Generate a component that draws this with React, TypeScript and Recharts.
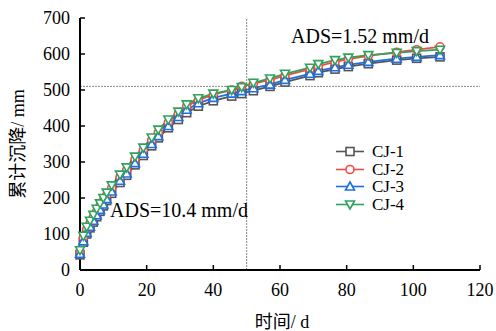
import { LineChart, Line, XAxis, YAxis, ReferenceLine, Legend } from "recharts";

const days = [0, 1, 2, 3, 4, 5, 6, 7, 8, 9.5, 12, 14, 16.5, 19, 21.5, 23.5, 26.5, 29.5, 32, 35.5, 40, 45.5, 48.5, 52, 57, 61.5, 69, 71.5, 76.5, 80.5, 86.5, 95, 101, 108];

const cj1 = [42, 77, 100, 117, 133, 148, 163, 178, 193, 213, 243, 263, 292, 318, 345, 367, 395, 418, 437, 455, 470, 483, 490, 498, 510, 522, 540, 548, 558, 565, 573, 583, 588, 592];
const cj2 = [50, 90, 113, 130, 147, 163, 178, 193, 208, 228, 258, 278, 307, 333, 360, 382, 410, 435, 455, 472, 487, 500, 510, 518, 528, 540, 558, 566, 578, 586, 595, 605, 612, 620];
const cj3 = [45, 80, 103, 120, 137, 152, 167, 182, 197, 218, 248, 268, 297, 323, 350, 372, 400, 425, 445, 463, 478, 490, 497, 505, 515, 528, 545, 553, 563, 570, 578, 587, 592, 597];
const cj4 = [55, 95, 120, 137, 153, 170, 185, 200, 215, 235, 265, 285, 315, 340, 368, 390, 418, 440, 460, 477, 490, 500, 508, 520, 532, 545, 562, 572, 583, 590, 597, 603, 608, 612];

const xTicks = [0, 20, 40, 60, 80, 100, 120];
const yTicks = [0, 100, 200, 300, 400, 500, 600, 700];

const series = [
  { key: "cj1", name: "CJ-1", color: "#555555", shape: "square" },
  { key: "cj2", name: "CJ-2", color: "#f24a45", shape: "circle" },
  { key: "cj3", name: "CJ-3", color: "#1f6fe0", shape: "up" },
  { key: "cj4", name: "CJ-4", color: "#2ea35c", shape: "down" },
];

const data = days.map((d, i) => ({ day: d, cj1: cj1[i], cj2: cj2[i], cj3: cj3[i], cj4: cj4[i] }));

const FONT = "'Liberation Serif', 'Noto Sans CJK SC', serif";

function Marker({ cx, cy, shape, color }: { cx: number; cy: number; shape: string; color: string }) {
  const s = 4;
  const common = { fill: "#fff", stroke: color, strokeWidth: 1.6 };
  if (shape === "square") return <rect x={cx - s} y={cy - s} width={2 * s} height={2 * s} {...common} />;
  if (shape === "circle") return <circle cx={cx} cy={cy} r={s} {...common} />;
  if (shape === "up")
    return <polygon points={`${cx},${cy - s - 0.5} ${cx - s - 0.5},${cy + s - 0.5} ${cx + s + 0.5},${cy + s - 0.5}`} {...common} />;
  return <polygon points={`${cx},${cy + s + 0.5} ${cx - s - 0.5},${cy - s + 0.5} ${cx + s + 0.5},${cy - s + 0.5}`} {...common} />;
}

function renderLegend() {
  return (
    <div style={{ fontFamily: FONT, fontSize: 17, lineHeight: "17.5px" }}>
      {series.map((s) => (
        <div key={s.key} style={{ display: "flex", alignItems: "center", height: 17.5 }}>
          <svg width={40} height={17}>
            <line x1={4} x2={32} y1={8.5} y2={8.5} stroke={s.color} strokeWidth={1.6} />
            <Marker cx={18} cy={8.5} shape={s.shape} color={s.color} />
          </svg>
          <span style={{ color: "#000" }}>{s.name}</span>
        </div>
      ))}
    </div>
  );
}

export default function App() {
  return (
    <div style={{ position: "absolute", left: 0, top: 0, width: 496, height: 331, background: "#fff" }}>
      <LineChart width={496} height={331} data={data} margin={{ top: 18, right: 16, left: 0, bottom: 0 }}>
        <XAxis
          dataKey="day"
          type="number"
          domain={[0, 120]}
          ticks={xTicks}
          height={61}
          axisLine={{ stroke: "#000", strokeWidth: 2 }}
          tickLine={{ stroke: "#000", strokeWidth: 1.5 }}
          tickSize={-5}
          tickMargin={18}
          tick={{ fill: "#000", fontSize: 18, fontFamily: FONT }}
          label={{
            content: () => (
              <text x={282} y={328} textAnchor="middle" fontSize={18} fontFamily={FONT} fill="#000">
                时间/ d
              </text>
            ),
          }}
        />
        <YAxis
          type="number"
          domain={[0, 700]}
          ticks={yTicks}
          width={80}
          axisLine={{ stroke: "#000", strokeWidth: 2 }}
          tickLine={{ stroke: "#000", strokeWidth: 1.5 }}
          tickSize={-5}
          tickMargin={15}
          tick={{ fill: "#000", fontSize: 18, fontFamily: FONT }}
          label={{
            content: () => (
              <text
                x={24}
                y={144}
                textAnchor="middle"
                fontSize={18}
                fontFamily={FONT}
                fill="#000"
                transform="rotate(-90 24 144)"
              >
                累计沉降/ mm
              </text>
            ),
          }}
        />
        <ReferenceLine y={510} stroke="#888" strokeDasharray="2 1" strokeWidth={1} />
        <ReferenceLine x={50} stroke="#888" strokeDasharray="2 1" strokeWidth={1} />
        <ReferenceLine
          y={650}
          stroke="none"
          label={{ value: "ADS=1.52 mm/d", position: "center", dx: 80, fontSize: 20, fontFamily: FONT, fill: "#000" }}
        />
        <ReferenceLine
          y={167}
          stroke="none"
          label={{ value: "ADS=10.4 mm/d", position: "insideLeft", dx: 25, fontSize: 20, fontFamily: FONT, fill: "#000" }}
        />
        {series.map((s) => (
          <Line
            key={s.key}
            dataKey={s.key}
            name={s.name}
            stroke={s.color}
            strokeWidth={1.8}
            isAnimationActive={false}
            dot={(p: any) => <Marker key={`${s.key}-${p.index}`} cx={p.cx} cy={p.cy} shape={s.shape} color={s.color} />}
          />
        ))}
        <Legend
          layout="vertical"
          align="center"
          verticalAlign="middle"
          content={renderLegend}
          wrapperStyle={{ position: "absolute", left: 332, top: 143, width: 120, height: 72 }}
        />
      </LineChart>
    </div>
  );
}
